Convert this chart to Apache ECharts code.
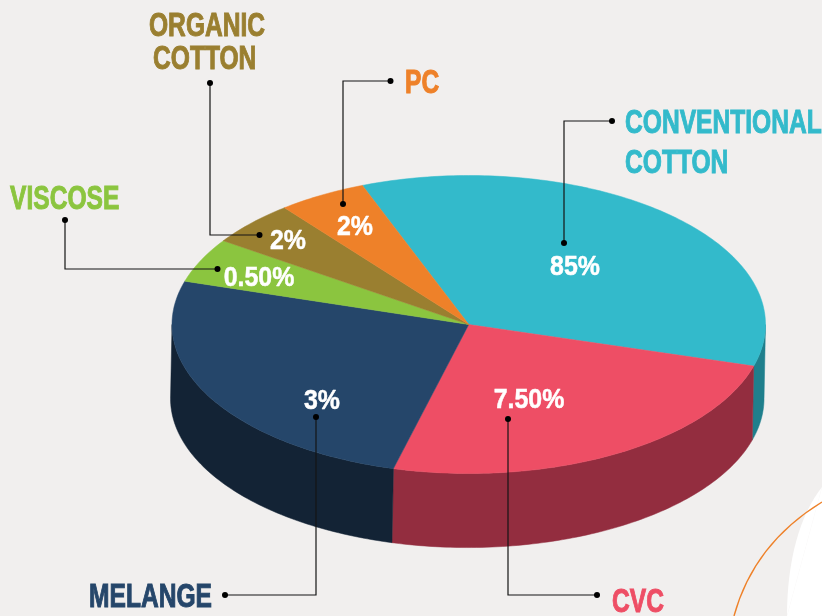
<!DOCTYPE html>
<html>
<head>
<meta charset="utf-8">
<style>
  html, body { margin: 0; padding: 0; background: #f1efee; }
  #chart { width: 822px; height: 616px; }
</style>
<script src="https://cdn.jsdelivr.net/npm/echarts@6/dist/echarts.min.js"></script>
</head>
<body>
<div id="chart"></div>
<script>
// printed percentages, they do not match the drawn slice sizes in the picture
const sliceNames = ['CONVENTIONAL COTTON', 'CVC', 'MELANGE', 'VISCOSE', 'ORGANIC COTTON', 'PC'];
const sliceLabels = ['85%', '7.50%', '3%', '0.50%', '2%', '2%'];
// drawn size of every slice on the tilted disc, in degrees
const sliceDegrees = [127.2, 88.5, 92.2, 17.3, 17.4, 17.4];

const topColors = ['#33bacb', '#ee4e65', '#25466a', '#8bc53f', '#9a7f30', '#ee8129'];
const wallColors = ['#1f7f8c', '#932d3f', '#132335', '#132335', '#132335', '#132335'];

const START_ANGLE = 249;
const WALL_DX = -0.005;
const WALL_DY = 0.497;
// no condensed face is installed, so the bold one gets squeezed
const FONT = '"Liberation Sans", sans-serif';
const HEADING_SQUEEZE = 0.745;
const PERCENT_SQUEEZE = 0.89;

let running = START_ANGLE;
const sliceRanges = sliceDegrees.map(function (deg, i) {
  const item = { name: sliceNames[i], value: [running, running + deg] };
  running += deg;
  return item;
});

function rimPoint(api, deg, dx, dy) {
  const t = (deg * Math.PI) / 180;
  return api.coord([Math.cos(t) + dx, Math.sin(t) + dy]);
}

function renderTop(params, api) {
  const from = api.value(0);
  const to = api.value(1);
  const points = [api.coord([0, 0])];
  for (let d = from; d < to; d += 1) {
    points.push(rimPoint(api, d, 0, 0));
  }
  points.push(rimPoint(api, to, 0, 0));
  const color = topColors[params.dataIndex];
  return {
    type: 'polygon',
    shape: { points: points },
    style: { fill: color, stroke: color, lineWidth: 0.5 },
  };
}

// only the front half of the rim has a visible wall
function renderWall(params, api) {
  const from = Math.max(api.value(0), 360);
  const to = Math.min(api.value(1), 540);
  if (from >= to) {
    return null;
  }
  const upper = [];
  const lower = [];
  for (let d = from; d < to; d += 1) {
    upper.push(rimPoint(api, d, 0, 0));
    lower.push(rimPoint(api, d, WALL_DX, WALL_DY));
  }
  upper.push(rimPoint(api, to, 0, 0));
  lower.push(rimPoint(api, to, WALL_DX, WALL_DY));
  const color = wallColors[params.dataIndex];
  return {
    type: 'polygon',
    shape: { points: upper.concat(lower.reverse()) },
    style: { fill: color, stroke: color, lineWidth: 0.5 },
  };
}

function leader(points) {
  const first = points[0];
  const last = points[points.length - 1];
  return [
    { type: 'polyline', z: 20, shape: { points: points }, style: { fill: null, stroke: '#151515', lineWidth: 1.2 } },
    { type: 'circle', z: 21, shape: { cx: first[0], cy: first[1], r: 3 }, style: { fill: '#000' } },
    { type: 'circle', z: 21, shape: { cx: last[0], cy: last[1], r: 3 }, style: { fill: '#000' } },
  ];
}

function heading(text, x, y, color) {
  return {
    type: 'text',
    z: 22,
    x: x,
    y: y,
    scaleX: HEADING_SQUEEZE,
    style: {
      text: text,
      fill: color,
      stroke: color,
      lineWidth: 1,
      font: 'bold 33px ' + FONT,
      textAlign: 'left',
      textVerticalAlign: 'bottom',
    },
  };
}

function percent(i, x, y) {
  return {
    type: 'text',
    z: 22,
    x: x,
    y: y,
    scaleX: PERCENT_SQUEEZE,
    style: {
      text: sliceLabels[i],
      fill: '#fff',
      stroke: '#fff',
      lineWidth: 0.5,
      font: 'bold 28px ' + FONT,
      textAlign: 'center',
      textVerticalAlign: 'middle',
    },
  };
}

const chart = echarts.init(document.getElementById('chart'));

chart.setOption({
  animation: false,
  backgroundColor: '#f1efee',
  grid: { left: 172, top: 175.5, width: 593.5, height: 298 },
  xAxis: { type: 'value', min: -1, max: 1, show: false },
  yAxis: { type: 'value', min: -1, max: 1, inverse: true, show: false },
  series: [
    { type: 'custom', clip: false, z: 2, renderItem: renderWall, data: sliceRanges },
    { type: 'custom', clip: false, z: 3, renderItem: renderTop, data: sliceRanges },
  ],
  graphic: [
    // page decoration bottom right
    { type: 'polygon', z: 1, shape: { points: [[822, 487], [787, 616], [822, 616]] }, style: { fill: '#fff' } },
    {
      type: 'bezierCurve',
      z: 1,
      shape: { x1: 822, y1: 487, cpx1: 800, cpy1: 515, cpx2: 787, cpy2: 560, x2: 787, y2: 616 },
      style: { fill: '#fff', stroke: null },
    },
    {
      type: 'bezierCurve',
      z: 1,
      shape: { x1: 822, y1: 502, cpx1: 773, cpy1: 532, cpx2: 746, cpy2: 572, x2: 734, y2: 616 },
      style: { fill: null, stroke: '#ee8129', lineWidth: 1.4 },
    },
  ]
    .concat(leader([[612, 121], [564, 121], [564, 243]]))
    .concat(leader([[597, 595], [508, 595], [508, 419]]))
    .concat(leader([[225, 595], [316, 595], [316, 417]]))
    .concat(leader([[65, 220], [65, 269], [217.5, 269]]))
    .concat(leader([[210, 83], [210, 235], [259.5, 235]]))
    .concat(leader([[390.5, 81], [343, 81], [343, 204]]))
    .concat([
      heading('CONVENTIONAL', 625, 140, topColors[0]),
      heading('COTTON', 625, 180, topColors[0]),
      heading(sliceNames[1], 612, 619, topColors[1]),
      heading(sliceNames[2], 89, 614, topColors[2]),
      heading(sliceNames[3], 10, 216, topColors[3]),
      heading('ORGANIC', 149, 43, topColors[4]),
      heading('COTTON', 153, 76, topColors[4]),
      heading(sliceNames[5], 405, 100, topColors[5]),
      percent(0, 575, 267),
      percent(1, 529, 400),
      percent(2, 322, 401),
      percent(3, 259, 278),
      percent(4, 288, 241),
      percent(5, 355, 227),
    ]),
});

window.addEventListener('resize', function () {
  chart.resize();
});
</script>
</body>
</html>
